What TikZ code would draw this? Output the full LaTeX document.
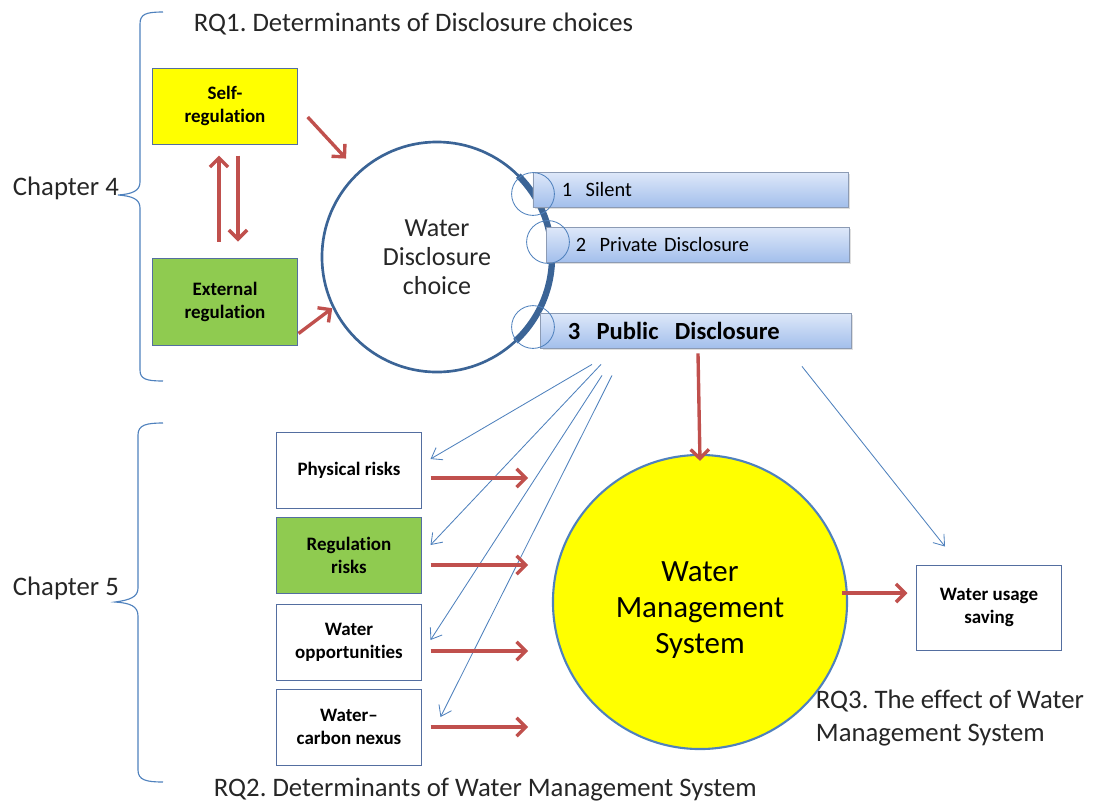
\documentclass[tikz,border=0pt]{standalone}
\usepackage{fontspec}
\setmainfont[Ligatures={TeX,NoCommon}]{Carlito}
\usetikzlibrary{arrows.meta,shadows}
\definecolor{arrred}{RGB}{192,80,77}
\definecolor{lineblue}{RGB}{79,129,189}
\definecolor{ringblue}{RGB}{59,100,150}
\definecolor{boxedge}{RGB}{84,110,160}
\definecolor{regyellow}{RGB}{255,255,0}
\definecolor{reggreen}{RGB}{143,203,80}
\definecolor{bartop}{RGB}{222,232,249}
\definecolor{barbot}{RGB}{163,191,236}
\definecolor{baredge}{RGB}{140,155,180}
\definecolor{txtgray}{RGB}{38,38,38}
\begin{document}
\begin{tikzpicture}[x=0.025cm,y=-0.025cm,
  every node/.style={font=\fontsize{19}{24}\selectfont,text=txtgray},
  box/.style={draw=boxedge,line width=0.7pt,minimum width=3.6cm,minimum height=1.9cm,align=center,inner sep=1pt,font=\fontsize{13.5}{16.4}\selectfont\bfseries,text=black},
  optbar/.style={draw=baredge,line width=0.6pt,top color=bartop,bottom color=barbot,minimum height=0.875cm,inner xsep=0.72cm,align=left,font=\fontsize{14.5}{17}\selectfont,text=black,drop shadow={opacity=0.25,shadow xshift=1.5pt,shadow yshift=-1.5pt}},
  ring/.style={draw=lineblue,line width=0.6pt,circle,minimum size=1.07cm,inner sep=0pt},
  redarr/.style={draw=arrred,line width=2.4pt,-{Straight Barb[length=6.5pt,width=13pt]}},
  bluearr/.style={draw=lineblue,line width=0.6pt,-{Straight Barb[length=7pt,width=10pt]}},
  chbrace/.style={draw=lineblue,line width=0.8pt}]
\useasboundingbox (0,0) rectangle (1093,805);

\node[anchor=west] (rq1) at (189,24) {RQ1.\ Determinants of Disclosure choices};
\node[anchor=west] (ch4) at (8,188) {Chapter 4};
\node[anchor=west] (ch5) at (8,588) {Chapter 5};
\node[anchor=west] (rq2) at (209,790) {RQ2.\ Determinants of Water Management System};
\node[anchor=west,align=left] (rq3) at (811,718) {RQ3.\ The effect of Water\\Management System};

\draw[chbrace] (163,12) .. controls (146,12) and (140,14) .. (140,24) -- (140,182)
  .. controls (140,191) and (132,194) .. (118,195) .. controls (132,196) and (140,199) .. (140,208)
  -- (140,370) .. controls (140,379) and (146,381) .. (163,381);
\draw[chbrace] (163,423) .. controls (146,423) and (138,425) .. (138,435) -- (138,588)
  .. controls (138,597) and (130,600) .. (115,602) .. controls (130,603) and (138,606) .. (138,616)
  -- (138,770) .. controls (138,780) and (146,782) .. (163,782);

\node[box,fill=regyellow] (selfreg) at (225,106) {Self-\\regulation};
\node[box,fill=reggreen,minimum height=2.175cm] (extreg) at (225,301.5) {External\\regulation};
\node[circle,draw=ringblue,line width=1.9pt,minimum size=5.75cm,align=center,font=\fontsize{18.5}{20.6}\selectfont] (choice) at (437,257) {Water\\Disclosure\\choice};
\draw[ringblue,line width=4.5pt] ([shift={(45:2.875cm)}]choice.center) arc[start angle=45,end angle=-47,radius=2.875cm];

\node[optbar,text width=6.435cm] (silent) at (690.5,189.5) {1~ Silent};
\node[optbar,text width=6.11cm,inner xsep=0.725cm] (private) at (698,244.5) {2~ Private Disclosure};
\node[optbar,text width=6.41cm,inner xsep=0.675cm,font=\fontsize{17.5}{20}\selectfont\bfseries] (public) at (696,330.5) {3~ Public~ Disclosure};
\node[ring] (ring1) at (533,194) {};
\node[ring] (ring2) at (548,242) {};
\node[ring] (ring3) at (533,327) {};

\node[circle,draw=lineblue,line width=1.5pt,fill=regyellow,minimum size=7.35cm,
  label={[yshift=-0.2cm,align=center,font=\fontsize{22}{25.6}\selectfont,text=black]center:Water\\Management\\System}] (wms) at (700,602) {};

\node[box] (phys) at (349,470) {Physical risks};
\node[box,fill=reggreen] (regrisk) at (349,555) {Regulation\\risks};
\node[box] (wopp) at (349,642) {Water\\opportunities};
\node[box] (nexus) at (349,727) {Water–\\carbon nexus};
\node[box,minimum height=2.125cm] (saving) at (989,607.5) {Water usage\\saving};

\draw[redarr,shorten <=0.375cm,shorten >=3.35cm] (selfreg.east) -- (choice.center);
\draw[redarr] ([shift={(1,-12)}]extreg.south east) -- ([shift={(-4,-7)}]choice.210);
\draw[redarr] ([shift={(-6,-16)}]extreg.north) -- ([shift={(-6,11)}]selfreg.south);
\draw[redarr] ([shift={(13,11)}]selfreg.south) -- ([shift={(13,-16)}]extreg.north);
\draw[redarr] ([shift={(2,5)}]public.south) -- ([shift={(0,7)}]wms.north);

\draw[bluearr] ([shift={(-104,16)}]public.south) -- ([shift={(9,-11)}]phys.east);
\draw[bluearr] ([shift={(-95,16)}]public.south) -- ([shift={(9,-10)}]regrisk.east);
\draw[bluearr] ([shift={(-94,27)}]public.south) -- ([shift={(9,-2)}]wopp.east);
\draw[bluearr] ([shift={(-84,27)}]public.south) -- ([shift={(19,-10)}]nexus.east);
\draw[bluearr] ([shift={(106,18)}]public.south) -- ([shift={(-44,-18)}]saving.north);

\foreach \b/\dy in {phys/8,regrisk/10,wopp/9,nexus/0}
  \draw[redarr,shorten >=0.82cm] ([shift={(9,\dy)}]\b.east) -- ([shift={(9,\dy)}]\b.east -| wms.west);
\draw[redarr] ([shift={(-6,-9)}]wms.east) -- ([shift={(-9,-14.5)}]saving.west);
\end{tikzpicture}
\end{document}
